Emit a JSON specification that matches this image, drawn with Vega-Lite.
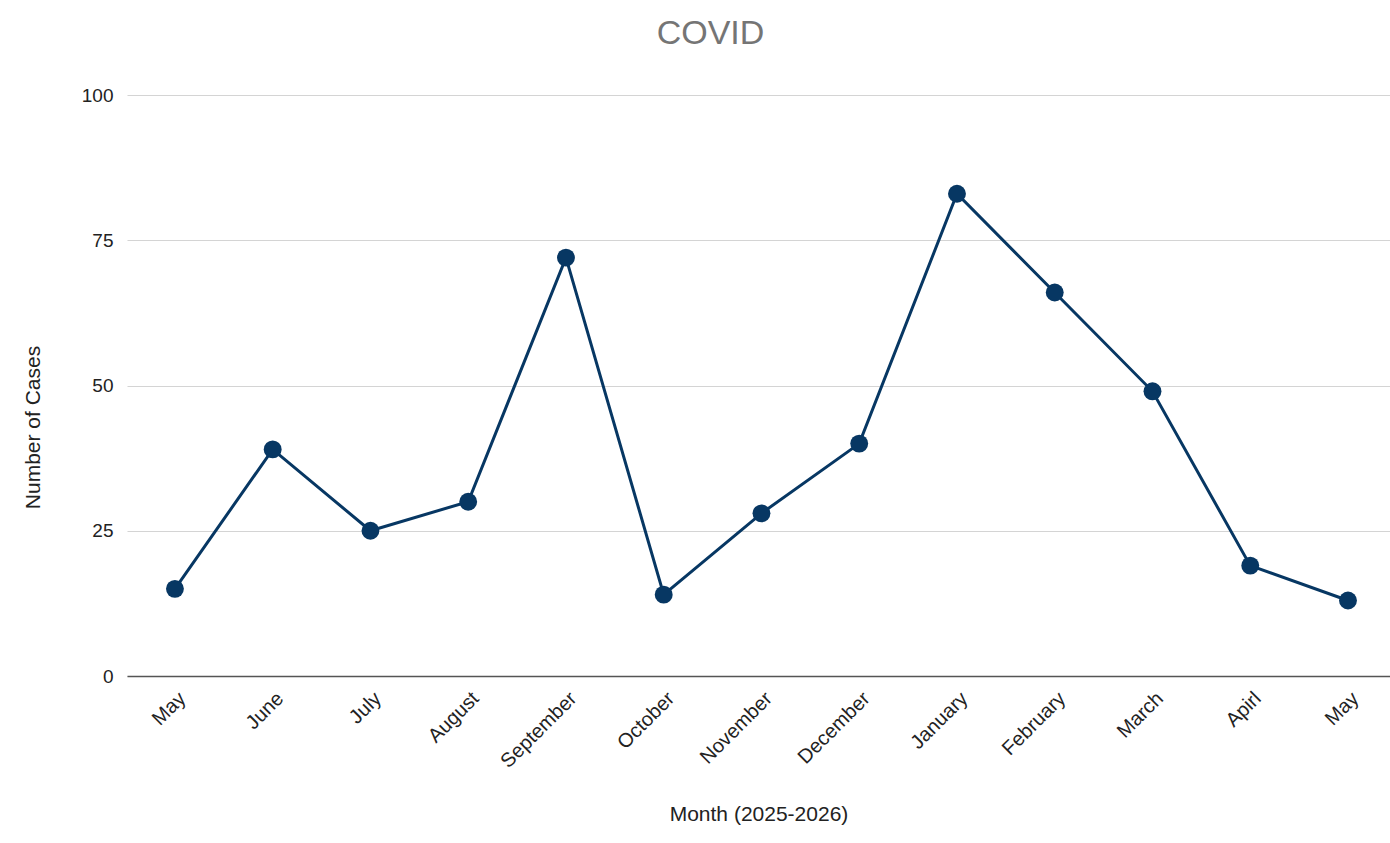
{
  "$schema": "https://vega.github.io/schema/vega-lite/v6.json",
  "width": 1263,
  "height": 581,
  "autosize": {"type": "none"},
  "padding": {"left": 127, "top": 95, "right": 0, "bottom": 167},
  "background": "white",
  "title": {
    "text": "COVID",
    "font": "Liberation Sans",
    "fontSize": 34,
    "fontWeight": "normal",
    "color": "#757575",
    "anchor": "middle",
    "dx": -48,
    "offset": 35
  },
  "data": {
    "values": [
      {"month": "May 2025", "cases": 15},
      {"month": "June 2025", "cases": 39},
      {"month": "July 2025", "cases": 25},
      {"month": "August 2025", "cases": 30},
      {"month": "September 2025", "cases": 72},
      {"month": "October 2025", "cases": 14},
      {"month": "November 2025", "cases": 28},
      {"month": "December 2025", "cases": 40},
      {"month": "January 2026", "cases": 83},
      {"month": "February 2026", "cases": 66},
      {"month": "March 2026", "cases": 49},
      {"month": "Apirl 2026", "cases": 19},
      {"month": "May 2026", "cases": 13}
    ]
  },
  "encoding": {
    "x": {
      "field": "month",
      "type": "ordinal",
      "sort": null,
      "scale": {"type": "point", "padding": 0.46, "align": 0.533},
      "axis": {
        "title": "Month (2025-2026)",
        "labelExpr": "split(datum.label, ' ')[0]",
        "labelAngle": -45,
        "labelFont": "Liberation Sans",
        "labelFontSize": 20,
        "labelColor": "#222222",
        "labelPadding": 12,
        "ticks": false,
        "tickSize": 0,
        "grid": false,
        "domainColor": "#555555",
        "domainWidth": 1.5,
        "titleFont": "Liberation Sans",
        "titleFontSize": 21,
        "titleFontWeight": "normal",
        "titleColor": "#222222",
        "titleBaseline": "alphabetic",
        "titleY": 144
      }
    },
    "y": {
      "field": "cases",
      "type": "quantitative",
      "scale": {"domain": [0, 100]},
      "axis": {
        "title": "Number of Cases",
        "values": [0, 25, 50, 75, 100],
        "labelFont": "Liberation Sans",
        "labelFontSize": 19,
        "labelColor": "#222222",
        "labelPadding": 14,
        "ticks": false,
        "tickSize": 0,
        "domain": false,
        "gridColor": "#d4d4d4",
        "gridWidth": 1.2,
        "titleFont": "Liberation Sans",
        "titleFontSize": 21,
        "titleFontWeight": "normal",
        "titleColor": "#222222",
        "titleBaseline": "alphabetic",
        "titleX": -88,
        "titleY": 332
      }
    }
  },
  "layer": [
    {"mark": {"type": "line", "color": "#073763", "strokeWidth": 3}},
    {"mark": {"type": "point", "filled": true, "color": "#073763", "size": 320, "opacity": 1}}
  ],
  "config": {"view": {"stroke": null}}
}
